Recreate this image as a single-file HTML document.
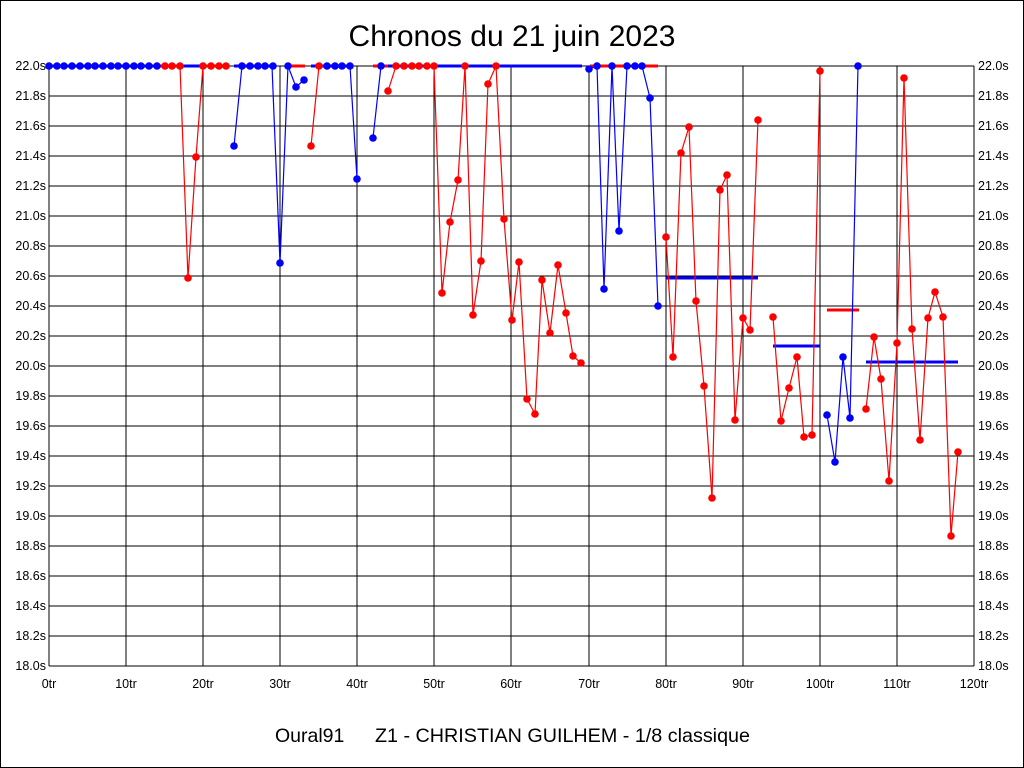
<!DOCTYPE html>
<html><head><meta charset="utf-8"><style>
html,body{margin:0;padding:0;background:#fff}
svg{display:block}
text{font-family:"Liberation Sans",sans-serif;fill:#000}
</style></head><body>
<svg width="1024" height="768" viewBox="0 0 1024 768" xmlns="http://www.w3.org/2000/svg">
<rect x="0.5" y="0.5" width="1023" height="767" fill="#fff" stroke="#000"/>
<text x="512" y="46" font-size="30" text-anchor="middle">Chronos du 21 juin 2023</text>
<g stroke="#000" stroke-width="1" shape-rendering="crispEdges">
<path d="M49 66H974M49 96H974M49 126H974M49 156H974M49 186H974M49 216H974M49 246H974M49 276H974M49 306H974M49 336H974M49 366H974M49 396H974M49 426H974M49 456H974M49 486H974M49 516H974M49 546H974M49 576H974M49 606H974M49 636H974M49 666H974"/>
<path d="M49 66V666M126 66V666M203 66V666M280 66V666M357 66V666M434 66V666M511 66V666M589 66V666M666 66V666M743 66V666M820 66V666M897 66V666M974 66V666"/>
</g>
<g font-size="12.5" text-anchor="end">
<text x="46" y="70">22.0s</text><text x="46" y="100">21.8s</text><text x="46" y="130">21.6s</text><text x="46" y="160">21.4s</text><text x="46" y="190">21.2s</text><text x="46" y="220">21.0s</text><text x="46" y="250">20.8s</text><text x="46" y="280">20.6s</text><text x="46" y="310">20.4s</text><text x="46" y="340">20.2s</text><text x="46" y="370">20.0s</text><text x="46" y="400">19.8s</text><text x="46" y="430">19.6s</text><text x="46" y="460">19.4s</text><text x="46" y="490">19.2s</text><text x="46" y="520">19.0s</text><text x="46" y="550">18.8s</text><text x="46" y="580">18.6s</text><text x="46" y="610">18.4s</text><text x="46" y="640">18.2s</text><text x="46" y="670">18.0s</text>
</g>
<g font-size="12.5" text-anchor="start">
<text x="978" y="70">22.0s</text><text x="978" y="100">21.8s</text><text x="978" y="130">21.6s</text><text x="978" y="160">21.4s</text><text x="978" y="190">21.2s</text><text x="978" y="220">21.0s</text><text x="978" y="250">20.8s</text><text x="978" y="280">20.6s</text><text x="978" y="310">20.4s</text><text x="978" y="340">20.2s</text><text x="978" y="370">20.0s</text><text x="978" y="400">19.8s</text><text x="978" y="430">19.6s</text><text x="978" y="460">19.4s</text><text x="978" y="490">19.2s</text><text x="978" y="520">19.0s</text><text x="978" y="550">18.8s</text><text x="978" y="580">18.6s</text><text x="978" y="610">18.4s</text><text x="978" y="640">18.2s</text><text x="978" y="670">18.0s</text>
</g>
<g font-size="12.5" text-anchor="middle">
<text x="49" y="688">0tr</text><text x="126" y="688">10tr</text><text x="203" y="688">20tr</text><text x="280" y="688">30tr</text><text x="357" y="688">40tr</text><text x="434" y="688">50tr</text><text x="511" y="688">60tr</text><text x="589" y="688">70tr</text><text x="666" y="688">80tr</text><text x="743" y="688">90tr</text><text x="820" y="688">100tr</text><text x="897" y="688">110tr</text><text x="974" y="688">120tr</text>
</g>
<text x="275" y="742" font-size="19.5">Oural91</text>
<text x="375" y="742" font-size="19.5" textLength="375" lengthAdjust="spacingAndGlyphs">Z1 - CHRISTIAN GUILHEM - 1/8 classique</text>

<g stroke-width="3" fill="none">
<path d="M49 66H165" stroke="#00f"/>
<path d="M157 66H182" stroke="#f00"/>
<path d="M182 66H203" stroke="#00f"/>
<path d="M203 66H226" stroke="#f00"/>
<path d="M234 66H272" stroke="#00f"/>
<path d="M288 66H305" stroke="#f00"/>
<path d="M311 66H350" stroke="#00f"/>
<path d="M373 66H434" stroke="#f00"/>
<path d="M388 66H582" stroke="#00f"/>
<path d="M590 66H658" stroke="#f00"/>
<path d="M666 278H758M773 346H820M866 362H958" stroke="#00f"/>
<path d="M827 310H859" stroke="#f00"/>
</g>
<g fill="none" stroke-width="1.2">
<polyline stroke="#f00" points="180,66 188,278 196,157 203,66"/>
<polyline stroke="#00f" points="234,146 242,66"/>
<polyline stroke="#00f" points="272,66 280,263 288,66 296,87 304,80"/>
<polyline stroke="#f00" points="311,146 319,66"/>
<polyline stroke="#00f" points="350,66 357,179"/>
<polyline stroke="#00f" points="373,138 381,66"/>
<polyline stroke="#f00" points="388,91 396,66"/>
<polyline stroke="#f00" points="434,66 442,293 450,222 458,180 465,66 473,315 481,261 488,84 496,66 504,219 512,320 519,262 527,399 535,414 542,280 550,333 558,265 566,313 573,356 581,363"/>
<polyline stroke="#00f" points="589,69 597,66 604,289 612,66 619,231 627,66 635,66 642,66 650,98 658,306"/>
<polyline stroke="#f00" points="666,237 673,357 681,153 689,127 696,301 704,386 712,498 720,190 727,175 735,420 743,318 750,330 758,120"/>
<polyline stroke="#f00" points="773,317 781,421 789,388 797,357 804,437 812,435 820,71"/>
<polyline stroke="#00f" points="827,415 835,462 843,357 850,418 858,66"/>
<polyline stroke="#f00" points="866,409 874,337 881,379 889,481 897,343 904,78 912,329 920,440 928,318 935,292 943,317 951,536 958,452"/>
</g>
<g fill="#00f">
<circle cx="49" cy="66" r="3.8"/><circle cx="57" cy="66" r="3.8"/><circle cx="64" cy="66" r="3.8"/><circle cx="72" cy="66" r="3.8"/><circle cx="80" cy="66" r="3.8"/><circle cx="88" cy="66" r="3.8"/><circle cx="95" cy="66" r="3.8"/><circle cx="103" cy="66" r="3.8"/><circle cx="111" cy="66" r="3.8"/><circle cx="118" cy="66" r="3.8"/><circle cx="126" cy="66" r="3.8"/><circle cx="134" cy="66" r="3.8"/><circle cx="141" cy="66" r="3.8"/><circle cx="149" cy="66" r="3.8"/><circle cx="157" cy="66" r="3.8"/>
<circle cx="234" cy="146" r="3.8"/><circle cx="242" cy="66" r="3.8"/><circle cx="250" cy="66" r="3.8"/><circle cx="258" cy="66" r="3.8"/><circle cx="265" cy="66" r="3.8"/><circle cx="273" cy="66" r="3.8"/><circle cx="280" cy="263" r="3.8"/><circle cx="288" cy="66" r="3.8"/><circle cx="296" cy="87" r="3.8"/><circle cx="304" cy="80" r="3.8"/>
<circle cx="327" cy="66" r="3.8"/><circle cx="335" cy="66" r="3.8"/><circle cx="342" cy="66" r="3.8"/><circle cx="350" cy="66" r="3.8"/><circle cx="357" cy="179" r="3.8"/>
<circle cx="373" cy="138" r="3.8"/><circle cx="381" cy="66" r="3.8"/>
<circle cx="589" cy="69" r="3.8"/><circle cx="597" cy="66" r="3.8"/><circle cx="604" cy="289" r="3.8"/><circle cx="612" cy="66" r="3.8"/><circle cx="619" cy="231" r="3.8"/><circle cx="627" cy="66" r="3.8"/><circle cx="635" cy="66" r="3.8"/><circle cx="642" cy="66" r="3.8"/><circle cx="650" cy="98" r="3.8"/><circle cx="658" cy="306" r="3.8"/>
<circle cx="827" cy="415" r="3.8"/><circle cx="835" cy="462" r="3.8"/><circle cx="843" cy="357" r="3.8"/><circle cx="850" cy="418" r="3.8"/><circle cx="858" cy="66" r="3.8"/>
</g>
<g fill="#f00">
<circle cx="165" cy="66" r="3.8"/><circle cx="172" cy="66" r="3.8"/><circle cx="180" cy="66" r="3.8"/><circle cx="188" cy="278" r="3.8"/><circle cx="196" cy="157" r="3.8"/><circle cx="203" cy="66" r="3.8"/><circle cx="211" cy="66" r="3.8"/><circle cx="219" cy="66" r="3.8"/><circle cx="226" cy="66" r="3.8"/>
<circle cx="311" cy="146" r="3.8"/><circle cx="319" cy="66" r="3.8"/>
<circle cx="388" cy="91" r="3.8"/><circle cx="396" cy="66" r="3.8"/><circle cx="404" cy="66" r="3.8"/><circle cx="412" cy="66" r="3.8"/><circle cx="419" cy="66" r="3.8"/><circle cx="427" cy="66" r="3.8"/><circle cx="434" cy="66" r="3.8"/>
<circle cx="442" cy="293" r="3.8"/><circle cx="450" cy="222" r="3.8"/><circle cx="458" cy="180" r="3.8"/><circle cx="465" cy="66" r="3.8"/><circle cx="473" cy="315" r="3.8"/><circle cx="481" cy="261" r="3.8"/><circle cx="488" cy="84" r="3.8"/><circle cx="496" cy="66" r="3.8"/><circle cx="504" cy="219" r="3.8"/><circle cx="512" cy="320" r="3.8"/><circle cx="519" cy="262" r="3.8"/><circle cx="527" cy="399" r="3.8"/><circle cx="535" cy="414" r="3.8"/><circle cx="542" cy="280" r="3.8"/><circle cx="550" cy="333" r="3.8"/><circle cx="558" cy="265" r="3.8"/><circle cx="566" cy="313" r="3.8"/><circle cx="573" cy="356" r="3.8"/><circle cx="581" cy="363" r="3.8"/>
<circle cx="666" cy="237" r="3.8"/><circle cx="673" cy="357" r="3.8"/><circle cx="681" cy="153" r="3.8"/><circle cx="689" cy="127" r="3.8"/><circle cx="696" cy="301" r="3.8"/><circle cx="704" cy="386" r="3.8"/><circle cx="712" cy="498" r="3.8"/><circle cx="720" cy="190" r="3.8"/><circle cx="727" cy="175" r="3.8"/><circle cx="735" cy="420" r="3.8"/><circle cx="743" cy="318" r="3.8"/><circle cx="750" cy="330" r="3.8"/><circle cx="758" cy="120" r="3.8"/>
<circle cx="773" cy="317" r="3.8"/><circle cx="781" cy="421" r="3.8"/><circle cx="789" cy="388" r="3.8"/><circle cx="797" cy="357" r="3.8"/><circle cx="804" cy="437" r="3.8"/><circle cx="812" cy="435" r="3.8"/><circle cx="820" cy="71" r="3.8"/>
<circle cx="866" cy="409" r="3.8"/><circle cx="874" cy="337" r="3.8"/><circle cx="881" cy="379" r="3.8"/><circle cx="889" cy="481" r="3.8"/><circle cx="897" cy="343" r="3.8"/><circle cx="904" cy="78" r="3.8"/><circle cx="912" cy="329" r="3.8"/><circle cx="920" cy="440" r="3.8"/><circle cx="928" cy="318" r="3.8"/><circle cx="935" cy="292" r="3.8"/><circle cx="943" cy="317" r="3.8"/><circle cx="951" cy="536" r="3.8"/><circle cx="958" cy="452" r="3.8"/>
</g>
</svg>
</body></html>
